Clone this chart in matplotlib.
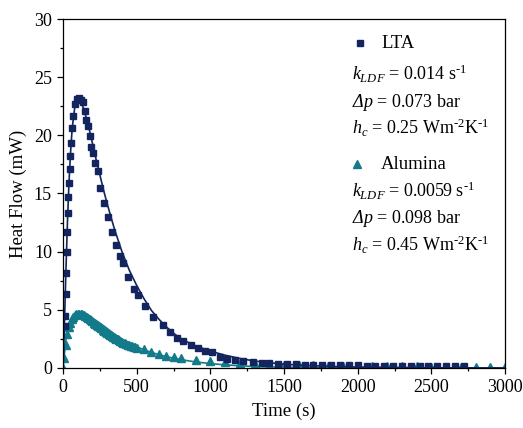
import numpy as np
import matplotlib
matplotlib.use("Agg")
import matplotlib.pyplot as plt

plt.rcParams["font.family"] = ["Liberation Serif", "DejaVu Serif"]
plt.rcParams["mathtext.fontset"] = "custom"
plt.rcParams["mathtext.rm"] = "Liberation Serif"
plt.rcParams["mathtext.it"] = "Liberation Serif:italic"
plt.rcParams["mathtext.sf"] = "Liberation Serif:italic"   # used for italic Δp

NAVY = "#14245e"
TEAL = "#137a8a"

# ── LTA experimental points (s, mW) ──────────────────────────────────────────
lta_t = [12, 15, 18, 21, 24, 28, 32, 36, 40, 44, 50, 55, 60, 68, 78, 92, 106,
         120, 133, 147, 158, 170, 180, 192, 204, 220, 235, 251, 280, 303, 330,
         358, 387, 410, 443, 485, 510, 557, 613, 681, 726, 772, 817, 869, 919,
         964, 1009, 1066, 1111, 1168, 1224, 1292, 1349, 1400, 1460, 1520, 1580,
         1640, 1700, 1760, 1820, 1880, 1940, 2000, 2060, 2120, 2180, 2240, 2300,
         2360, 2420, 2480, 2540, 2600, 2660, 2720]
lta_q = [3.6, 4.5, 6.4, 8.2, 10.0, 11.7, 13.3, 14.7, 15.9, 17.1, 18.2, 19.3,
         20.6, 21.7, 22.7, 23.1, 23.2, 23.0, 22.9, 22.1, 21.3, 20.8, 19.9, 19.0,
         18.5, 17.6, 16.9, 15.5, 14.2, 13.0, 11.7, 10.6, 9.6, 9.0, 7.85, 6.8,
         6.3, 5.3, 4.4, 3.7, 3.1, 2.55, 2.3, 1.98, 1.69, 1.46, 1.35, 0.97, 0.8,
         0.72, 0.6, 0.53, 0.46, 0.42, 0.38, 0.35, 0.32, 0.3, 0.28, 0.26, 0.25,
         0.24, 0.23, 0.22, 0.21, 0.2, 0.19, 0.18, 0.18, 0.17, 0.16, 0.16, 0.15,
         0.15, 0.14, 0.14]

# ── LTA model ────────────────────────────────────────────────────────────────
lta_fit_t = [0, 5, 10, 20, 30, 40, 50, 60, 70, 80, 90, 100, 110, 120, 140, 160,
             180, 200, 225, 250, 275, 300, 350, 400, 450, 500, 550, 600, 650,
             700, 750, 800, 900, 1000, 1100, 1200, 1300, 1400, 1500, 1600, 1800,
             2000, 2500, 3000]
lta_fit_q = [0.0, 1.5, 4.0, 8.5, 12.5, 15.8, 18.3, 20.2, 21.5, 22.4, 22.9, 23.1,
             23.1, 22.9, 22.3, 21.4, 20.4, 19.3, 17.9, 16.6, 15.3, 14.1, 11.9,
             10.0, 8.4, 7.1, 5.95, 4.95, 4.2, 3.55, 3.0, 2.5, 1.9, 1.45, 1.1,
             0.82, 0.6, 0.45, 0.33, 0.25, 0.14, 0.08, 0.02, 0.0]

# ── Alumina experimental points ──────────────────────────────────────────────
alu_t = [0, 10, 20, 30, 40, 50, 60, 70, 80, 90, 100, 110, 120, 130, 140, 150,
         160, 170, 180, 190, 200, 210, 220, 230, 240, 250, 260, 270, 280, 290,
         300, 310, 320, 330, 340, 350, 360, 370, 380, 390, 400, 410, 420, 430,
         440, 450, 460, 470, 480, 490, 500, 550, 600, 650, 700, 750, 800, 900,
         1000, 1100, 1200, 1300, 1400, 1500, 1600, 1700, 1800, 1900, 2000, 2100,
         2200, 2300, 2400, 2500, 2600, 2700, 2800, 2900, 3000]
alu_q = [0.0, 0.9, 2.0, 2.9, 3.5, 3.9, 4.2, 4.4, 4.55, 4.62, 4.66, 4.67, 4.66,
         4.62, 4.56, 4.48, 4.4, 4.3, 4.2, 4.1, 4.0, 3.9, 3.8, 3.7, 3.6, 3.5, 3.4,
         3.3, 3.2, 3.11, 3.02, 2.93, 2.84, 2.76, 2.68, 2.6, 2.52, 2.45, 2.38,
         2.31, 2.24, 2.18, 2.12, 2.06, 2.0, 1.95, 1.9, 1.86, 1.82, 1.78, 1.75,
         1.6, 1.38, 1.18, 1.02, 0.92, 0.82, 0.7, 0.58, 0.48, 0.4, 0.34, 0.3,
         0.26, 0.24, 0.22, 0.2, 0.18, 0.17, 0.16, 0.15, 0.14, 0.13, 0.12, 0.12,
         0.11, 0.11, 0.1, 0.1]

# ── Alumina model ────────────────────────────────────────────────────────────
alu_fit_t = [0, 10, 20, 30, 40, 50, 60, 70, 80, 90, 100, 120, 140, 160, 180,
             200, 225, 250, 275, 300, 325, 350, 400, 450, 500, 550, 600, 650,
             700, 750, 800, 900, 1000, 1100, 1200, 1300, 1400, 1500, 1700, 2000,
             3000]
alu_fit_q = [0.0, 1.3, 2.4, 3.2, 3.8, 4.15, 4.4, 4.55, 4.65, 4.7, 4.72, 4.72,
             4.65, 4.55, 4.42, 4.28, 4.08, 3.86, 3.63, 3.39, 3.15, 2.92, 2.48,
             2.12, 1.82, 1.56, 1.34, 1.15, 0.98, 0.84, 0.72, 0.52, 0.38, 0.27,
             0.19, 0.13, 0.09, 0.06, 0.03, 0.01, 0.0]

fig = plt.figure(figsize=(5.23, 4.28), dpi=100)
ax = fig.add_axes([0.1205, 0.1402, 0.8451, 0.8154])

ax.plot(alu_t, alu_q, linestyle="none", marker="^", ms=5.2, color=TEAL, mec=TEAL)
ax.plot(alu_fit_t, alu_fit_q, color=TEAL, lw=1.2)
ax.plot(lta_t, lta_q, linestyle="none", marker="s", ms=4.5, color=NAVY, mec=NAVY)
ax.plot(lta_fit_t, lta_fit_q, color=NAVY, lw=1.2)

ax.set_xlim(0, 3000)
ax.set_ylim(0, 30)
ax.set_xticks(np.arange(0, 3001, 500))
ax.set_xticks(np.arange(0, 3001, 250), minor=True)
ax.set_yticks(np.arange(0, 31, 5))
ax.set_yticks(np.arange(0, 31, 2.5), minor=True)
ax.tick_params(which="both", direction="out", top=False, right=False,
               labelsize=13, width=0.9)
ax.tick_params(which="major", length=4.5)
ax.tick_params(which="minor", length=2.5)
for sp in ax.spines.values():
    sp.set_linewidth(0.9)

ax.set_xlabel("Time (s)", fontsize=13.5, labelpad=5)
ax.set_ylabel("Heat Flow (mW)", fontsize=13.5, labelpad=5)

fs = 13
HY = "\u2010"   # short hyphen for the exponents, as in the original
# LTA block
ax.plot([2016], [27.9], linestyle="none", marker="s", ms=4.5, color=NAVY)
ax.text(2160, 27.9, "LTA", fontsize=fs + 0.5, va="center")
ax.text(1960, 25.3, r"$k_{LDF}$ = 0.014 s$^{" + HY + "1}$", fontsize=fs, va="center")
ax.text(1960, 22.85, r"$\mathsf{Δp}$ = 0.073 bar", fontsize=fs, va="center")
ax.text(1960, 20.6, r"$h_c$ = 0.25 Wm$^{" + HY + "2}$K$^{" + HY + "1}$",
        fontsize=fs, va="center")

# Alumina block
ax.plot([1998], [17.5], linestyle="none", marker="^", ms=5.2, color=TEAL)
ax.text(2160, 17.5, "Alumina", fontsize=fs + 0.5, va="center")
ax.text(1960, 15.2, r"$k_{LDF}$ = 0.0059 s$^{" + HY + "1}$", fontsize=fs, va="center")
ax.text(1960, 12.85, r"$\mathsf{Δp}$ = 0.098 bar", fontsize=fs, va="center")
ax.text(1960, 10.55, r"$h_c$ = 0.45 Wm$^{" + HY + "2}$K$^{" + HY + "1}$",
        fontsize=fs, va="center")

fig.savefig("out.png", dpi=100)
plt.close(fig)
